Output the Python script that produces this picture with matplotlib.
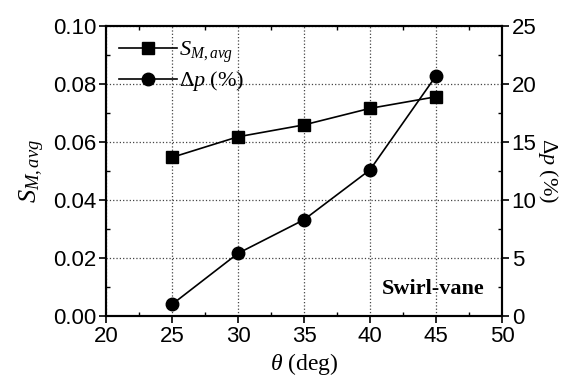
import matplotlib
matplotlib.use('Agg')
import matplotlib.pyplot as plt
from matplotlib.ticker import MultipleLocator

plt.rcParams['font.family'] = ['Liberation Sans', 'DejaVu Sans']
plt.rcParams['mathtext.fontset'] = 'custom'
plt.rcParams['mathtext.it'] = 'Liberation Serif:italic'
plt.rcParams['mathtext.rm'] = 'Liberation Serif'

theta = [25, 30, 35, 40, 45]
s_m_avg = [0.0547, 0.0618, 0.0659, 0.0716, 0.0756]
delta_p = [1.0, 5.4, 8.3, 12.6, 20.7]

fig = plt.figure(figsize=(5.65, 3.78), dpi=100)
ax = fig.add_axes([106 / 565, 1 - 316 / 378, 396 / 565, 290 / 378])
ax2 = ax.twinx()

l1, = ax.plot(theta, s_m_avg, color='black', lw=1.2, marker='s', ms=8)
l2, = ax2.plot(theta, delta_p, color='black', lw=1.2, marker='o', ms=9)

ax.set_xlim(20, 50)
ax.set_ylim(0, 0.10)
ax2.set_ylim(0, 25)
ax.xaxis.set_major_locator(MultipleLocator(5))
ax.xaxis.set_minor_locator(MultipleLocator(2.5))
ax.yaxis.set_major_locator(MultipleLocator(0.02))
ax.yaxis.set_minor_locator(MultipleLocator(0.01))
ax2.yaxis.set_major_locator(MultipleLocator(5))
ax2.yaxis.set_minor_locator(MultipleLocator(2.5))
ax.yaxis.set_major_formatter(matplotlib.ticker.FormatStrFormatter('%.2f'))

ax.grid(True, which='major', ls=':', color='#444444', lw=0.9)

ax.tick_params(which='major', direction='out', length=5, width=1.2,
               labelsize=16, top=False, pad=2)
ax.tick_params(which='minor', direction='in', length=3, width=1, top=True)
ax2.tick_params(which='major', direction='out', length=5, width=1.2, labelsize=16, pad=2)
ax2.tick_params(which='minor', direction='in', length=3, width=1)
for a in (ax, ax2):
    for s in a.spines.values():
        s.set_linewidth(1.5)

ax.set_xlabel(r'$\theta$ (deg)', family='Liberation Serif', fontsize=17, labelpad=3)
ax.set_ylabel(r'$S_{M,avg}$', fontsize=19, labelpad=4)
ax2.set_ylabel(r'$\Delta p$ (%)', family='Liberation Serif', fontsize=16,
               rotation=270, labelpad=17)

ax.text(0.957, 0.093, 'Swirl-vane', transform=ax.transAxes, ha='right', va='center',
        family='Liberation Serif', fontweight='bold', fontsize=16)

leg = ax.legend([l1, l2], [r'$S_{M,avg}$', r'$\Delta p$ (%)'], loc='upper left',
                frameon=False, handlelength=2.6, borderaxespad=0.2,
                labelspacing=0.2, handletextpad=0.1,
                prop={'family': 'Liberation Serif', 'size': 16})

fig.savefig('out.png', dpi=100)
